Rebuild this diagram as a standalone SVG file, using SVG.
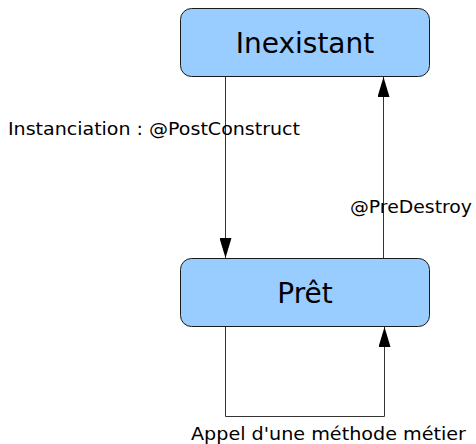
<svg xmlns="http://www.w3.org/2000/svg" width="476" height="444" viewBox="0 0 476 444">
  <style>
    .state rect { fill: #99ccff; stroke: #1a1a1a; stroke-width: 1; }
    .state text { font-family: "DejaVu Sans", sans-serif; font-size: 28px; fill: #000; text-anchor: middle; }
    .edge { fill: none; stroke: #333; stroke-width: 1; }
    .label { font-family: "DejaVu Sans", sans-serif; font-size: 17.5px; fill: #000; }
  </style>
  <defs>
    <marker id="arrow" viewBox="0 0 20 12" refX="20" refY="6" markerWidth="20" markerHeight="12" markerUnits="userSpaceOnUse" orient="auto">
      <path d="M0,0 L20,6 L0,12 Z" fill="#000"/>
    </marker>
  </defs>
  <rect width="476" height="444" fill="#fff"/>

  <g id="inexistant" class="state">
    <rect x="180.5" y="8.5" width="249" height="68" rx="11" ry="11"/>
    <text x="305" y="53">Inexistant</text>
  </g>

  <g id="pret" class="state">
    <rect x="180.5" y="258.5" width="249" height="68" rx="11" ry="11"/>
    <text x="305" y="303">Prêt</text>
  </g>

  <g id="connectors">
    <path class="edge" d="M225.5,77 L225.5,258" marker-end="url(#arrow)"/>
    <path class="edge" d="M383.5,258 L383.5,77" marker-end="url(#arrow)"/>
    <path class="edge" d="M225.5,327 L225.5,416.5 L384.5,416.5 L384.5,327" marker-end="url(#arrow)"/>
  </g>

  <g id="labels">
    <text class="label" x="8" y="135" textLength="292" lengthAdjust="spacingAndGlyphs">Instanciation : @PostConstruct</text>
    <text class="label" x="350" y="213" textLength="122" lengthAdjust="spacingAndGlyphs">@PreDestroy</text>
    <text class="label" x="191" y="440" textLength="275" lengthAdjust="spacingAndGlyphs">Appel d'une méthode métier</text>
  </g>
</svg>
